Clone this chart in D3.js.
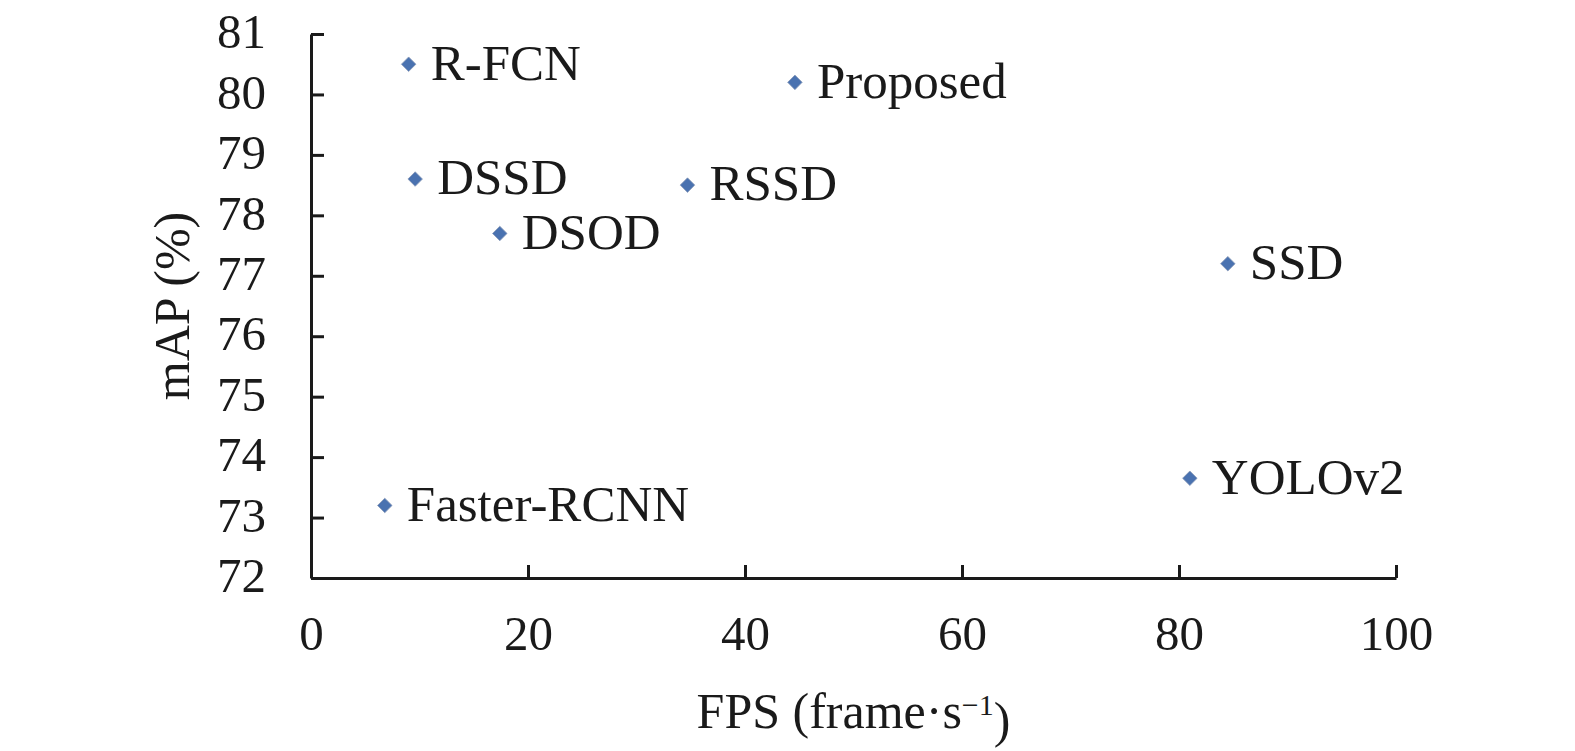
<!DOCTYPE html>
<html>
<head>
<meta charset="utf-8">
<script src="https://cdn.jsdelivr.net/npm/d3@7"></script>
<style>
    body { margin: 0; background: #fff; }
    text { font-family: "Liberation Serif", "Times New Roman", serif; fill: #1a1a1a; }
</style>
</head>
<body>
<div id="chart"></div>
<script>
// Detector names, speed (FPS) and accuracy (mAP %)
var models = ["R-FCN", "Proposed", "DSSD", "RSSD", "DSOD", "SSD", "YOLOv2", "Faster-RCNN"];
var fps = [9, 44.6, 9.6, 34.7, 17.4, 84.5, 81, 6.8];
var mAP = [80.5, 80.2, 78.6, 78.5, 77.7, 77.2, 73.65, 73.2];

var xTicks = [0, 20, 40, 60, 80, 100];
var yTicks = [72, 73, 74, 75, 76, 77, 78, 79, 80, 81];

function init() {
    var w = 1575;
    var h = 751;
    var margin = { left: 311, right: 179, top: 34, bottom: 173 };

    var svg = d3.select("#chart")
        .append("svg")
        .attr("width", w)
        .attr("height", h);

    var x = d3.scaleLinear()
        .domain([0, 100])
        .range([margin.left, w - margin.right]);

    var y = d3.scaleLinear()
        .domain([72, 81])
        .range([h - margin.bottom, margin.top]);

    // x axis, ticks pointing inward
    var xAxis = svg.append("g")
        .attr("transform", "translate(0," + y(72) + ")")
        .call(d3.axisBottom(x).tickValues(xTicks).tickSize(-13).tickPadding(62).tickSizeOuter(0));

    // y axis, ticks pointing inward
    var yAxis = svg.append("g")
        .attr("transform", "translate(" + x(0) + ",0)")
        .call(d3.axisLeft(y).tickValues(yTicks).tickSize(-13).tickPadding(45).tickSizeOuter(0));

    [xAxis, yAxis].forEach(function (g) {
        g.select(".domain").attr("stroke", "#1a1a1a").attr("stroke-width", 3);
        g.selectAll(".tick line").attr("stroke", "#1a1a1a").attr("stroke-width", 3);
        g.selectAll(".tick text")
            .style("font-family", "Liberation Serif")
            .style("font-size", "49px")
            .attr("fill", "#1a1a1a");
    });
    xAxis.selectAll(".tick text").attr("dy", "0.2em");
    yAxis.selectAll(".tick text").attr("dy", "0.28em");

    var data = models.map(function (m, i) {
        return { name: m, fps: fps[i], mAP: mAP[i] };
    });

    // diamond markers
    var diamond = d3.symbol().type(d3.symbolDiamond2).size(135);
    svg.selectAll("path.pt")
        .data(data)
        .enter()
        .append("path")
        .attr("class", "pt")
        .attr("d", diamond)
        .attr("transform", function (d) {
            return "translate(" + x(d.fps) + "," + y(d.mAP) + ")";
        })
        .attr("fill", "#4a72b0")
        .attr("stroke", "#8a9ab8")
        .attr("stroke-width", 0.8);

    // point labels
    svg.selectAll("text.lbl")
        .data(data)
        .enter()
        .append("text")
        .attr("class", "lbl")
        .attr("x", function (d) { return x(d.fps) + 22; })
        .attr("y", function (d) { return y(d.mAP); })
        .attr("dy", "0.3em")
        .style("font-size", "51px")
        .text(function (d) { return d.name; });

    // axis titles
    var xt = svg.append("text")
        .attr("x", (x(0) + x(100)) / 2)
        .attr("y", 728)
        .attr("text-anchor", "middle")
        .style("font-size", "50px");
    xt.append("tspan").text("FPS (frame\u00b7s");
    xt.append("tspan").attr("dy", "-0.45em").style("font-size", "30px").text("\u22121");
    xt.append("tspan").attr("dy", "0.45em").text(")");

    svg.append("text")
        .attr("transform", "translate(189," + ((y(72) + y(81)) / 2) + ") rotate(-90)")
        .attr("text-anchor", "middle")
        .style("font-size", "50px")
        .text("mAP (%)");
}

window.onload = init;
</script>
</body>
</html>
